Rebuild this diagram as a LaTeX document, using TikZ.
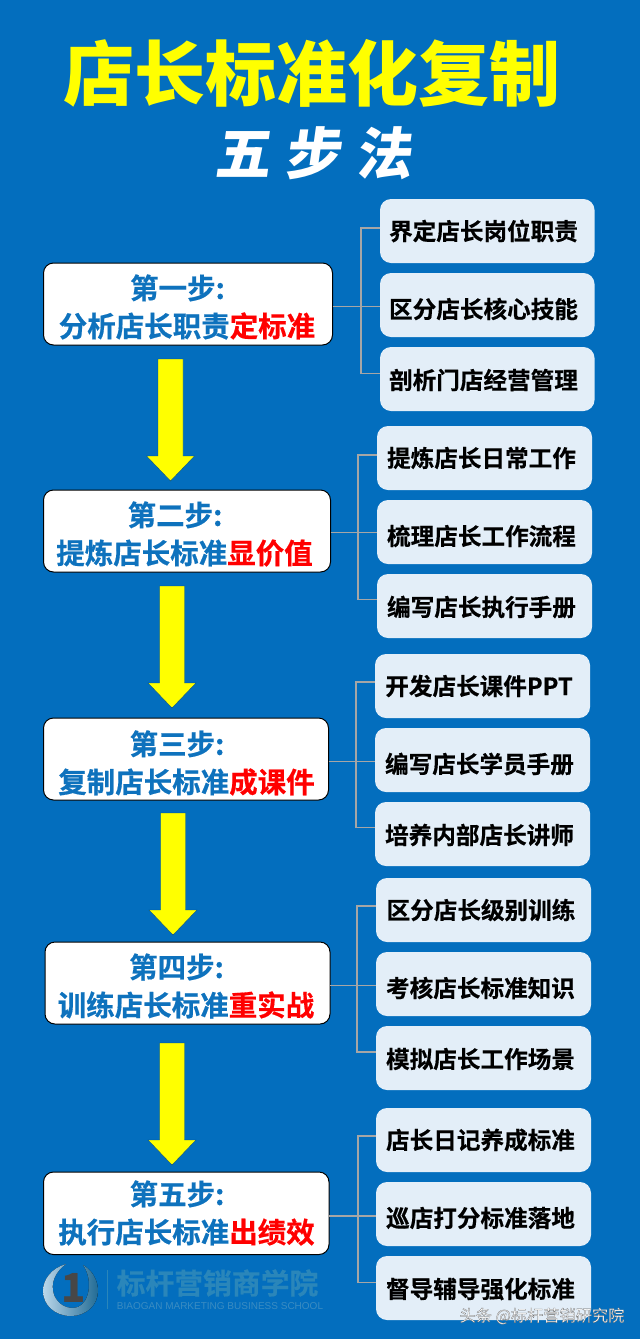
\documentclass[tikz,border=0pt]{standalone}
\usepackage{fontspec}
\setmainfont{Liberation Sans}
\newfontfamily\cjk{Noto Sans CJK SC}
\newfontfamily\cjkheavy{Noto Sans CJK SC Bold}[FakeBold=0.5]
\newfontfamily\cjkblack{Noto Sans CJK SC Black}
\newfontfamily\cjkslant{Noto Sans CJK SC Black}[FakeSlant=0.14]
\definecolor{bgblue}{HTML}{036EBE}
\definecolor{stepblue}{HTML}{0E72BD}
\definecolor{palebox}{HTML}{E3EEF8}
\definecolor{linkgray}{HTML}{A6A6A6}
\definecolor{logoteal}{HTML}{2A86BA}
\definecolor{logosub}{HTML}{3A8CC2}
\definecolor{pureyellow}{HTML}{FFFF00}
\tikzset{
  x=1pt,y=-1pt,
  stepbox/.style={draw=black,line width=1pt,fill=white,rounded corners=10pt,inner sep=0pt,outer sep=0pt},
  subbox/.style={fill=palebox,rounded corners=11pt,inner sep=0pt,outer sep=0pt},
  steptext/.style={font=\cjkheavy\fontsize{28.5}{38}\selectfont,text=stepblue,align=center,inner sep=0pt},
  subtext/.style={font=\cjkheavy\fontsize{23.6}{26}\selectfont,text=black,inner sep=0pt},
  link/.style={draw=linkgray,line width=1.4pt},
  bigarrow/.style={fill=pureyellow,draw=bgblue!70!black,line width=.4pt},
}
\newcommand{\hl}[1]{\textcolor{red}{#1}}
\newcommand{\colonmark}{:\rule{19pt}{0pt}}
% name, x1, y1, x2, y2, style
\newcommand{\boxat}[6]{\node[#6,minimum width={(#4)-(#2)},minimum height={(#5)-(#3)}] (#1) at ({((#2)+(#4))/2},{((#3)+(#5))/2}) {};}
\newcommand{\threeboxes}[4]{% prefix, x1, x2, y top
  \boxat{#1a}{#2}{#4}{#3}{#4+64}{subbox}
  \boxat{#1b}{#2}{#4+74}{#3}{#4+138}{subbox}
  \boxat{#1c}{#2}{#4+148}{#3}{#4+212}{subbox}
}
\newcommand{\links}[6]{% step, prefix, trunk x, top y, mid y, bottom y
  \coordinate (#2ja) at (#3,#4);
  \coordinate (#2jb) at (#3,#5);
  \coordinate (#2jc) at (#3,#6);
  \draw[link] (#1.east |- #2jb) -- (#2b.west |- #2jb);
  \draw[link] (#2a.west |- #2ja) -- (#2ja) -- (#2jc) -- (#2c.west |- #2jc);
}
\newcommand{\blockarrow}[3]{% name, centre x, top y (height 122)
  \coordinate (#1) at (#2,#3);
  \draw[bigarrow] (#2-12.5,#3) -- (#2+12.5,#3) -- (#2+12.5,#3+97) -- (#2+24,#3+97) -- (#2,#3+122) -- (#2-24,#3+97) -- (#2-12.5,#3+97) -- cycle;
}
\begin{document}
\begin{tikzpicture}
\fill[bgblue] (0,0) rectangle (640,1339);
\useasboundingbox (0,0) rectangle (640,1339);

\node[inner sep=0pt,text=pureyellow,font=\cjkblack\fontsize{71}{72}\selectfont] (title) at (312,73) {店长标准化复制};
\node[inner sep=0pt,text=white,font=\cjkslant\fontsize{56}{58}\selectfont] (subtitle) at (313,153) {五\hspace{15pt}步\hspace{15pt}法};

% sub boxes
\threeboxes{g}{380}{594.5}{199}
\threeboxes{h}{377}{592}{426}
\threeboxes{i}{375}{590}{654}
\threeboxes{j}{376}{591}{878}
\threeboxes{k}{376}{591}{1108}

% step boxes
\boxat{s1}{43.5}{263}{332.5}{345}{stepbox}
\boxat{s2}{43.5}{490}{330.5}{572}{stepbox}
\boxat{s3}{43.5}{718}{328.5}{800}{stepbox}
\boxat{s4}{45}{942}{330}{1024}{stepbox}
\boxat{s5}{43.5}{1172}{329}{1254.5}{stepbox}

% connectors
\links{s1}{g}{361}{228}{306.5}{373.5}
\links{s2}{h}{358}{455}{532.5}{599.5}
\links{s3}{i}{356}{682}{761.5}{827.5}
\links{s4}{j}{357}{906}{985.5}{1052}
\links{s5}{k}{358}{1136}{1216}{1282.5}

% sub box texts
\node[subtext] (gat) at (483.5,231) {界定店长岗位职责};
\node[subtext] (gbt) at (483.5,309) {区分店长核心技能};
\node[subtext] (gct) at (483.5,380) {剖析门店经营管理};
\node[subtext] (hat) at (481.5,458) {提炼店长日常工作};
\node[subtext] (hbt) at (481.5,536) {梳理店长工作流程};
\node[subtext] (hct) at (481.5,607) {编写店长执行手册};
\node[subtext] (iat) at (479,686) {开发店长课件PPT};
\node[subtext] (ibt) at (479.5,764) {编写店长学员手册};
\node[subtext] (ict) at (479.5,835) {培养内部店长讲师};
\node[subtext] (jat) at (481,910) {区分店长级别训练};
\node[subtext] (jbt) at (480.5,988) {考核店长标准知识};
\node[subtext] (jct) at (480.5,1059) {模拟店长工作场景};
\node[subtext] (kat) at (480.5,1140) {店长日记养成标准};
\node[subtext] (kbt) at (480.5,1218) {巡店打分标准落地};
\node[subtext] (kct) at (480.5,1289) {督导辅导强化标准};

% step texts
\node[steptext] (t1) at (187,307) {第一步\colonmark\\分析店长职责\hl{定标准}};
\node[steptext] (t2) at (184.5,534) {第二步\colonmark\\提炼店长标准\hl{显价值}};
\node[steptext] (t3) at (186.5,763) {第三步\colonmark\\复制店长标准\hl{成课件}};
\node[steptext] (t4) at (186,986) {第四步\colonmark\\训练店长标准\hl{重实战}};
\node[steptext] (t5) at (186.5,1213) {第五步\colonmark\\执行店长标准\hl{出绩效}};

% arrows
\blockarrow{a1}{170.5}{359}
\blockarrow{a2}{172}{586}
\blockarrow{a3}{173}{813}
\blockarrow{a4}{172}{1043}

% logo
\fill[left color=logosub!35!white,right color=logoteal!80!black]
  (83,1265) .. controls (92,1270) and (98,1280) .. (98,1291)
  .. controls (98,1305) and (86,1316) .. (71,1316)
  .. controls (55,1316) and (43,1305) .. (43,1291)
  .. controls (43,1279) and (52,1268) .. (66,1264)
  .. controls (55,1272) and (50,1283) .. (54,1295)
  .. controls (58,1305) and (68,1310) .. (78,1307)
  .. controls (90,1302) and (93,1279) .. (83,1265) -- cycle;
\node[inner sep=0pt,text=black!72,font=\cjkblack\fontsize{40}{42}\selectfont] (logonum) at (74,1288) {1};
\coordinate (logotop) at (107.5,1270);
\coordinate (logobot) at (107.5,1309);
\draw[logoteal,line width=.8pt] (logotop) -- (logobot);
\node[inner sep=0pt,text=logoteal,font=\cjkheavy\fontsize{28.8}{30}\selectfont] (logoname) at (217.5,1283) {标杆营销商学院};
\node[inner sep=0pt,text=logosub,font=\fontsize{10}{12}\selectfont] (logoen) at (220,1306.5) {BIAOGAN MARKETING BUSINESS SCHOOL};

% watermark
\node[inner sep=0pt,text=white,font=\cjk\fontsize{16.2}{18}\selectfont] (mark) at (542,1316) {\special{pdf:code 2 Tr 0.2 w 0.35 0.35 0.35 RG}头条 @标杆营销研究院\special{pdf:code 0 Tr}};
\end{tikzpicture}
\end{document}
